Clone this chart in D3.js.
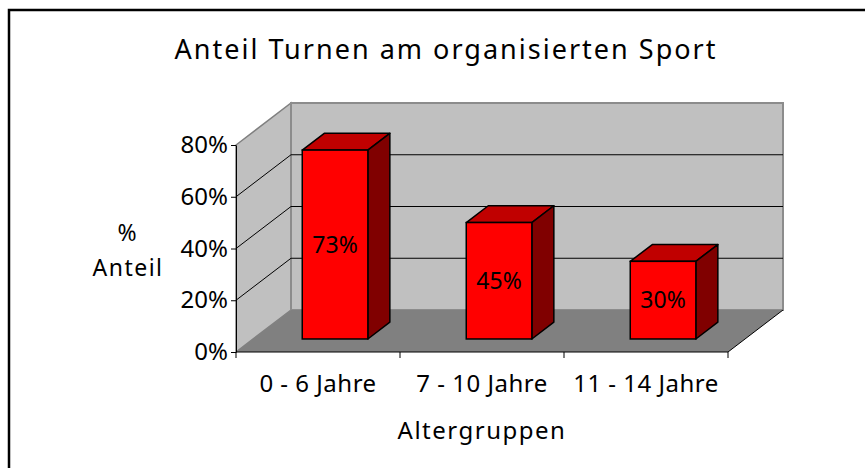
<!DOCTYPE html>
<html>
<head>
<meta charset="utf-8">
<script src="https://cdn.jsdelivr.net/npm/d3@7"></script>
<style>
  body { margin: 0; background: #fff; }
  text { font-family: "Noto Sans", sans-serif; fill: #000; }
</style>
</head>
<body>
<script>
const width = 865;
const height = 468;

// data
const categories = ['0 - 6 Jahre', '7 - 10 Jahre', '11 - 14 Jahre'];
const values = [0.73, 0.45, 0.30];
const labels = ['73%', '45%', '30%'];
const yTicks = [0, 0.2, 0.4, 0.6, 0.8];

const svg = d3.select('body').append('svg')
    .attr('width', width)
    .attr('height', height);

// frame (only top + left visible)
svg.append('path')
    .attr('d', `M9,${height} V10 H${width}`)
    .attr('fill', 'none')
    .attr('stroke', '#000')
    .attr('stroke-width', 2.5);

// scales
const x = d3.scaleBand().domain(categories).range([236, 728]);
const y = d3.scaleLinear().domain([0, 0.8]).range([352, 145]);

// 3d depth of the plot box and of the bars
const dx = 55, dy = -42;
const off = 0.31, dep = 0.4;
const barW = x.bandwidth() * 0.4;

const x0 = x.range()[0], x1 = x.range()[1];
const yb = y(0), yt = y(0.8);

const pts = p => p.map(d => d.join(',')).join(' ');

// left wall
svg.append('polygon')
    .attr('points', pts([[x0, yb], [x0, yt], [x0 + dx, yt + dy], [x0 + dx, yb + dy]]))
    .attr('fill', '#c0c0c0')
    .attr('stroke', '#808080')
    .attr('stroke-width', 1.5);

// back wall
svg.append('polygon')
    .attr('points', pts([[x0 + dx, yt + dy], [x1 + dx, yt + dy], [x1 + dx, yb + dy], [x0 + dx, yb + dy]]))
    .attr('fill', '#c0c0c0')
    .attr('stroke', '#8c8c8c')
    .attr('stroke-width', 2);

// floor
svg.append('polygon')
    .attr('points', pts([[x0, yb], [x0 + dx, yb + dy], [x1 + dx, yb + dy], [x1, yb]]))
    .attr('fill', '#808080');
svg.append('line')
    .attr('x1', x1).attr('y1', yb)
    .attr('x2', x1 + dx).attr('y2', yb + dy)
    .attr('stroke', '#000');

// gridlines (left wall + back wall)
const grid = yTicks.filter(d => d > 0 && d < 0.8);
svg.selectAll('.grid')
    .data(grid)
    .enter()
    .append('polyline')
    .attr('points', d => pts([[x0, y(d)], [x0 + dx, y(d) + dy], [x1 + dx, y(d) + dy]]))
    .attr('fill', 'none')
    .attr('stroke', '#000')
    .attr('stroke-width', 1);

// y axis
const yAxis = svg.append('g')
    .attr('transform', `translate(${x0},0)`)
    .call(d3.axisLeft(y).tickValues(yTicks).tickFormat(d3.format('.0%')).tickSize(5).tickSizeOuter(0).tickPadding(3));
yAxis.selectAll('text')
    .style('font-family', '"Noto Sans", sans-serif')
    .style('font-size', '24px');
yAxis.select('.domain').attr('stroke', '#000');

// x axis
svg.append('line')
    .attr('x1', x0).attr('y1', yb)
    .attr('x2', x1).attr('y2', yb)
    .attr('stroke', '#000');
svg.selectAll('.xtick')
    .data(categories.map(c => x(c)).concat([x1]))
    .enter()
    .append('line')
    .attr('x1', d => d).attr('x2', d => d)
    .attr('y1', yb).attr('y2', yb + 6)
    .attr('stroke', '#000');

svg.selectAll('.xlabel')
    .data(categories)
    .enter()
    .append('text')
    .attr('x', d => x(d) + x.bandwidth() / 2)
    .attr('y', 392)
    .attr('text-anchor', 'middle')
    .style('font-size', '24px')
    .style('letter-spacing', '0.5px')
    .text(d => d);

// bars
const bar = svg.selectAll('.bar')
    .data(values.map((v, i) => ({ c: categories[i], v: v, l: labels[i] })))
    .enter()
    .append('g');

const bx = d => x(d.c) + (x.bandwidth() - barW) / 2 + off * dx;
const by0 = yb + off * dy;
const byt = d => y(d.v) + off * dy;
const ddx = dep * dx, ddy = dep * dy;

bar.append('polygon')
    .attr('points', d => pts([[bx(d), byt(d)], [bx(d) + barW, byt(d)], [bx(d) + barW + ddx, byt(d) + ddy], [bx(d) + ddx, byt(d) + ddy]]))
    .attr('fill', '#c00000')
    .attr('stroke', '#000')
    .attr('stroke-width', 1.5)
    .attr('stroke-linejoin', 'round');

bar.append('polygon')
    .attr('points', d => pts([[bx(d) + barW, byt(d)], [bx(d) + barW + ddx, byt(d) + ddy], [bx(d) + barW + ddx, by0 + ddy], [bx(d) + barW, by0]]))
    .attr('fill', '#800000')
    .attr('stroke', '#000')
    .attr('stroke-width', 1.5)
    .attr('stroke-linejoin', 'round');

bar.append('rect')
    .attr('x', bx)
    .attr('y', byt)
    .attr('width', barW)
    .attr('height', d => by0 - byt(d))
    .attr('fill', '#ff0000')
    .attr('stroke', '#000')
    .attr('stroke-width', 1.5);

bar.append('text')
    .attr('x', d => bx(d) + barW / 2)
    .attr('y', d => (byt(d) + by0) / 2)
    .attr('dy', '0.35em')
    .attr('text-anchor', 'middle')
    .style('font-size', '23px')
    .text(d => d.l);

// titles
svg.append('text')
    .attr('x', 445)
    .attr('y', 59)
    .attr('text-anchor', 'middle')
    .attr('textLength', 541)
    .attr('lengthAdjust', 'spacing')
    .style('font-size', '27px')
    .text('Anteil Turnen am organisierten Sport');

svg.append('text')
    .attr('x', 482)
    .attr('y', 439)
    .attr('text-anchor', 'middle')
    .style('font-size', '24px')
    .style('letter-spacing', '1.5px')
    .text('Altergruppen');

svg.append('text')
    .attr('x', 127)
    .attr('y', 241)
    .attr('text-anchor', 'middle')
    .style('font-size', '23px')
    .text('%');

svg.append('text')
    .attr('x', 128)
    .attr('y', 276)
    .attr('text-anchor', 'middle')
    .style('font-size', '23px')
    .style('letter-spacing', '1.5px')
    .text('Anteil');
</script>
</body>
</html>
